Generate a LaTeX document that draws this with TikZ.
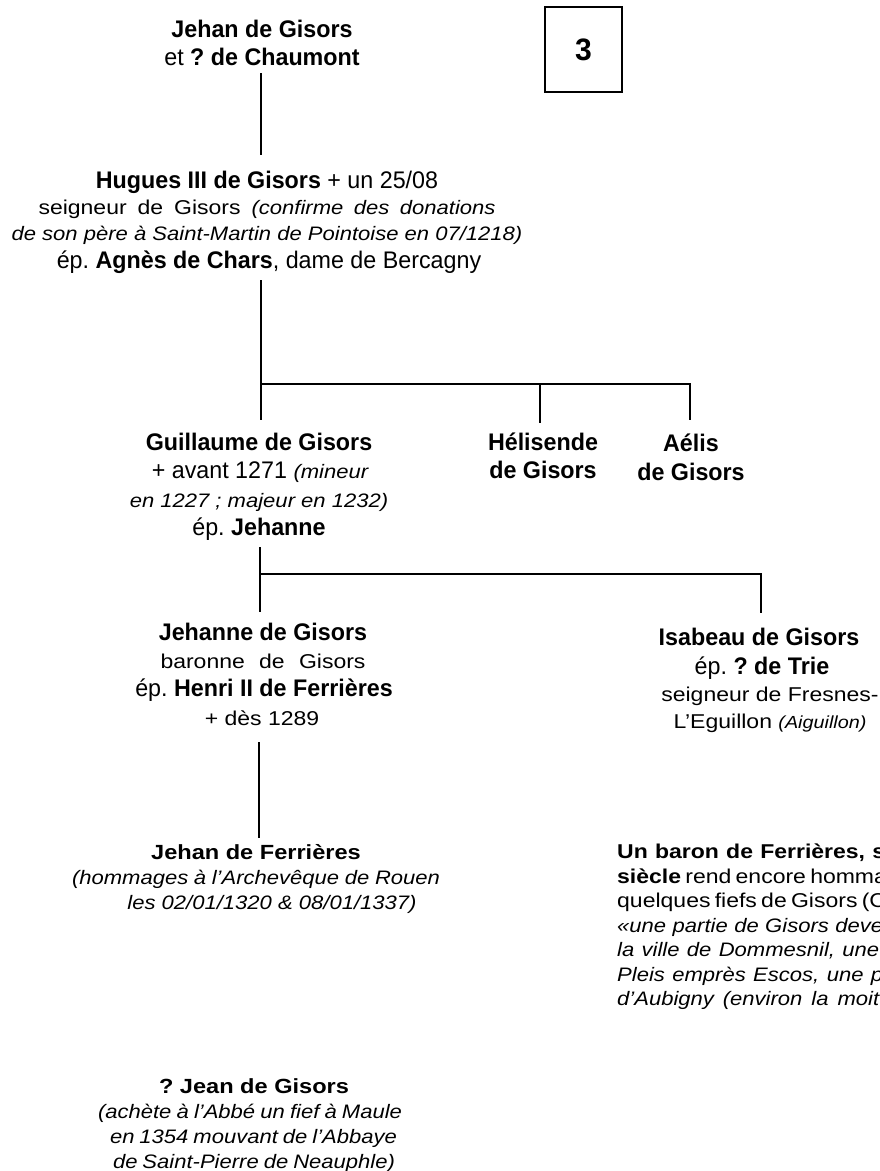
\documentclass[tikz,border=0pt]{standalone}
\usepackage{fontspec}
\setmainfont{Liberation Sans}
\frenchspacing
\newfontfamily\famN[FakeStretch=0.97]{Liberation Sans}
\newfontfamily\famW[FakeStretch=1.15]{Liberation Sans}
\newfontfamily\famI[FakeStretch=1.13]{Liberation Sans}
\newcommand\ftN{\famN\fontsize{24}{27}\selectfont}
\newcommand\ftW{\famW\fontsize{20}{24}\selectfont}
\newcommand\ftWB{\famW\bfseries\fontsize{20.5}{24}\selectfont}
\newcommand\ftI{\famI\itshape\fontsize{19.5}{24}\selectfont}
\newcommand\ftIs{\famI\itshape\fontsize{17.5}{20}\selectfont}
\begin{document}
\begin{tikzpicture}[x=1pt,y=-1pt,
  ln/.style={inner sep=0pt, anchor=base},
  lnw/.style={inner sep=0pt, anchor=base west},
  conn/.style={line width=1.8pt},
  numbox/.style={draw, line width=1.3pt, inner sep=0pt, minimum width=77pt, minimum height=85pt}]
\useasboundingbox[fill=white] (0,0) rectangle (879,1171);

% number box
\node[numbox, font=\famN\bfseries\fontsize{31}{31}\selectfont] (num) at (583.5,49.5) {3};

% Jehan de Gisors
\node[ln, font=\ftN\bfseries] (jg1) at (262,37) {Jehan de Gisors};
\node[ln, font=\ftN] (jg2) at (262,65) {et \textbf{? de Chaumont}};

% Hugues III
\node[ln, font=\ftN] (hu1) at (267,188) {\textbf{Hugues III de Gisors} + un 25/08};
\node[ln] (hu2) at (267,214) {\makebox[457pt][s]{\ftW seigneur de Gisors {\ftI(confirme des donations}}};
\node[ln, font=\ftI] (hu3) at (267,240) {de son père à Saint-Martin de Pointoise en 07/1218)};
\node[ln, font=\ftN] (hu4) at (269,268) {ép. \textbf{Agnès de Chars}, dame de Bercagny};

% Guillaume
\node[ln, font=\ftN\bfseries] (gu1) at (259,450) {Guillaume de Gisors};
\node[ln, font=\ftN] (gu2) at (260,478) {+ avant 1271 {\ftI(mineur}};
\node[ln, font=\ftI] (gu3) at (259,507) {en 1227 ; majeur en 1232)};
\node[ln, font=\ftN] (gu4) at (259,535) {ép. \textbf{Jehanne}};

% Helisende
\node[ln, font=\ftN\bfseries] (he1) at (543,450) {Hélisende};
\node[ln, font=\ftN\bfseries] (he2) at (543,478) {de Gisors};

% Aelis
\node[ln, font=\ftN\bfseries] (ae1) at (691,451) {Aélis};
\node[ln, font=\ftN\bfseries] (ae2) at (691,480) {de Gisors};

% Jehanne
\node[ln, font=\ftN\bfseries] (je1) at (263,640) {Jehanne de Gisors};
\node[ln] (je2) at (263,668) {\makebox[205pt][s]{\ftW baronne de Gisors}};
\node[ln, font=\ftN] (je3) at (264,696) {ép. \textbf{Henri II de Ferrières}};
\node[ln, font=\ftW] (je4) at (262,725) {+ dès 1289};

% Isabeau
\node[ln, font=\ftN\bfseries] (is1) at (759,645) {Isabeau de Gisors};
\node[ln, font=\ftN] (is2) at (762,674) {ép. \textbf{? de Trie}};
\node[ln, font=\ftW] (is3) at (770,701) {seigneur de Fresnes-};
\node[ln, font=\ftW] (is4) at (770,728) {L’Eguillon {\ftIs(Aiguillon)}};

% Jehan de Ferrieres
\node[ln, font=\ftWB] (fe1) at (256,859) {Jehan de Ferrières};
\node[ln] (fe2) at (256,884) {\makebox[368pt][s]{\ftI (hommages à l’Archevêque de Rouen}};
\node[ln, font=\ftI] (fe3) at (272,909) {les 02/01/1320 \& 08/01/1337)};

% Jean de Gisors
\node[ln, font=\ftWB] (jn1) at (254,1093) {? Jean de Gisors};
\node[ln] (jn2) at (250,1118) {\makebox[304pt][s]{\ftI (achète à l’Abbé un fief à Maule}};
\node[ln] (jn3) at (253.5,1143) {\makebox[287pt][s]{\ftI en 1354 mouvant de l’Abbaye}};
\node[ln] (jn4) at (254,1168) {\makebox[282pt][s]{\ftI de Saint-Pierre de Neauphle)}};

% paragraph (cut by the page edge)
\node[lnw] (pa1) at (617,858) {\makebox[268pt][s]{\ftW\bfseries Un baron de Ferrières, s}};
\node[lnw] (pa2) at (617,883) {\makebox[265pt][s]{\ftW\textbf{siècle} rend encore homma}};
\node[lnw] (pa3) at (617,907) {\makebox[268pt][s]{\ftW quelques fiefs de Gisors (C}};
\node[lnw] (pa4) at (617,932) {\makebox[266pt][s]{\ftI «une partie de Gisors deve}};
\node[lnw] (pa5) at (617,956) {\makebox[262pt][s]{\ftI la ville de Dommesnil, une}};
\node[lnw] (pa6) at (617,981) {\makebox[266pt][s]{\ftI Pleis emprès Escos, une p}};
\node[lnw] (pa7) at (617,1005) {\makebox[262pt][s]{\ftI d’Aubigny (environ la moit}};

% connectors
\coordinate (jgB) at (261,73);
\coordinate (huT) at (261,155);
\draw[conn] (jgB) -- (huT);
\coordinate (huB) at (261,280);
\coordinate (br1) at (261,384);
\coordinate (guT) at (261,420);
\coordinate (heT) at (540,423);
\coordinate (aeT) at (690,420);
\draw[conn] (huB) -- (guT);
\draw[conn] (br1) -| (aeT);
\draw[conn] (heT |- br1) -- (heT);
\coordinate (guB) at (260,547);
\coordinate (br2) at (260,574);
\coordinate (jeT) at (260,612);
\coordinate (isT) at (761,613);
\draw[conn] (guB) -- (jeT);
\draw[conn] (br2) -| (isT);
\coordinate (jeB) at (259,742);
\coordinate (feT) at (259,838);
\draw[conn] (jeB) -- (feT);
\end{tikzpicture}
\end{document}
